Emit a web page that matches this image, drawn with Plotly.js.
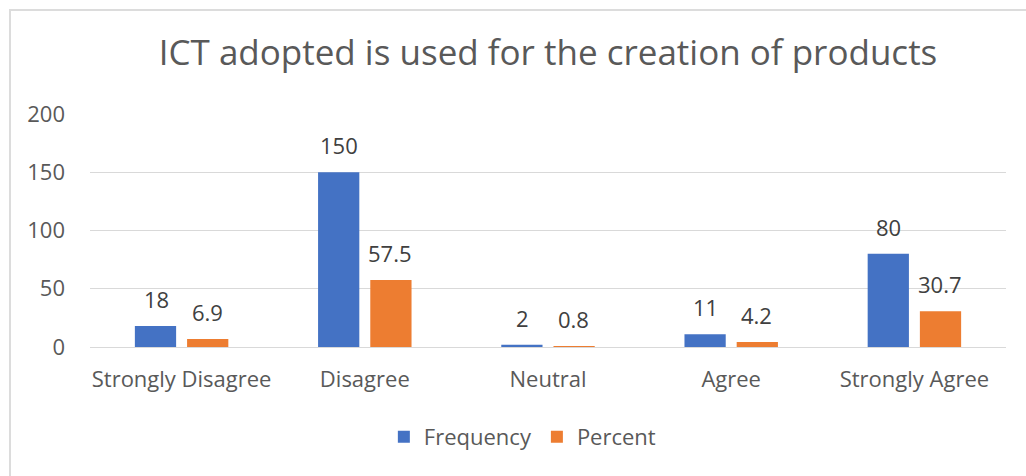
<!DOCTYPE html>
<html>
<head>
<meta charset="utf-8">
<script src="https://cdn.plot.ly/plotly-3.0.1.min.js"></script>
<style>
  html, body { margin: 0; padding: 0; background: #ffffff; }
  #wrap { position: relative; width: 1026px; height: 476px; overflow: hidden; }
  #chart { position: absolute; left: 0; top: 0; width: 1026px; height: 476px; }
  #frame { position: absolute; left: 9px; top: 9px; width: 1040px; height: 500px;
           border: 2px solid #dcdcdc; box-sizing: border-box; pointer-events: none; }
</style>
</head>
<body>
<div id="wrap">
  <div id="chart"></div>
  <div id="frame"></div>
</div>
<script>
// Survey responses: ICT adopted is used for the creation of products
const categories = ["Strongly Disagree", "Disagree", "Neutral", "Agree", "Strongly Agree"];
const frequency = [18, 150, 2, 11, 80];
const percent = [6.9, 57.5, 0.8, 4.2, 30.7];
const yTicks = [0, 50, 100, 150, 200];

const BLUE = "#4472C4";
const ORANGE = "#ED7D31";
const TEXT = "#595959";
const FONT = "Open Sans, Noto Sans, sans-serif";

const traces = [
  { type: "bar", name: "Frequency", x: categories, y: frequency,
    marker: { color: BLUE }, hoverinfo: "skip" },
  { type: "bar", name: "Percent", x: categories, y: percent,
    marker: { color: ORANGE }, hoverinfo: "skip" }
];

// value labels above each bar
const annotations = [];
function addLabels(values, shift) {
  values.forEach((v, i) => {
    annotations.push({
      x: categories[i], y: v, xref: "x", yref: "y",
      text: String(v), showarrow: false,
      xanchor: "center", yanchor: "bottom",
      xshift: shift, yshift: 10,
      font: { family: FONT, size: 22, color: "#404040" }
    });
  });
}
addLabels(frequency, -25.5);
addLabels(percent, 25.5);

const layout = {
  width: 1026, height: 476,
  margin: { l: 90, r: 20, t: 114, b: 129, pad: 0 },
  paper_bgcolor: "#ffffff", plot_bgcolor: "#ffffff",
  font: { family: FONT, color: TEXT, size: 22 },
  title: {
    text: "ICT adopted is used for the creation of products",
    font: { family: FONT, size: 35, color: TEXT },
    x: 0.5, xref: "paper", xanchor: "center",
    y: 1 - 53 / 476, yref: "container", yanchor: "middle"
  },
  barmode: "group",
  bargap: 0.43,
  bargroupgap: 0.21,
  xaxis: {
    type: "category",
    showgrid: false, showline: false, zeroline: false,
    ticks: "", ticklabelstandoff: 17,
    tickfont: { family: FONT, size: 22, color: TEXT }
  },
  yaxis: {
    range: [0, 200],
    tickvals: yTicks, ticktext: yTicks.map(String),
    showgrid: true, gridcolor: "#d9d9d9", gridwidth: 1,
    zeroline: true, zerolinecolor: "#d9d9d9", zerolinewidth: 1,
    showline: false, ticks: "", ticklabelstandoff: 24,
    tickfont: { family: FONT, size: 22, color: TEXT }
  },
  showlegend: true,
  legend: {
    orientation: "h",
    x: 0.472, xanchor: "center",
    y: -0.386, yanchor: "middle",
    font: { family: FONT, size: 22, color: TEXT },
    itemwidth: 30, tracegroupgap: 0
  },
  annotations: annotations
};

Plotly.newPlot("chart", traces, layout, { displayModeBar: false, staticPlot: true });
</script>
</body>
</html>
